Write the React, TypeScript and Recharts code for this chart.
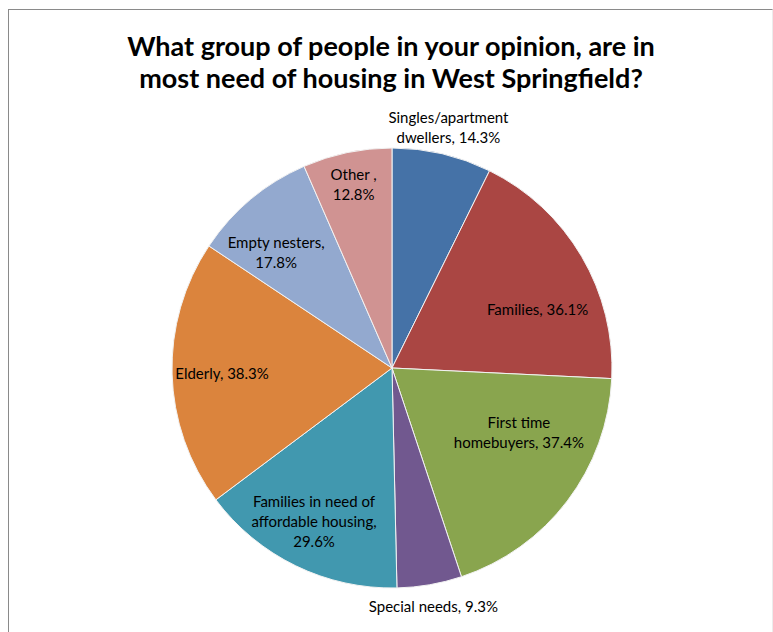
import { PieChart, Pie, Cell } from 'recharts';

// survey answers, in the order they run clockwise from 12 o'clock
const categories = [
  'Singles/apartment dwellers',
  'Families',
  'First time homebuyers',
  'Special needs',
  'Families in need of affordable housing',
  'Elderly',
  'Empty nesters',
  'Other ',
];
const percents = [14.3, 36.1, 37.4, 9.3, 29.6, 38.3, 17.8, 12.8];

const titleLines = [
  'What group of people in your opinion, are in',
  'most need of housing in West Springfield?',
];

// how each label wraps (the value is added after the last line)
const labelWrap = [
  ['Singles/apartment', 'dwellers'],
  ['Families'],
  ['First time', 'homebuyers'],
  ['Special needs'],
  ['Families in need of', 'affordable housing'],
  ['Elderly'],
  ['Empty nesters'],
  ['Other '],
];
const valueOnOwnLine = [false, false, false, false, true, false, true, true];

const colors = ['#4572A7', '#AA4643', '#89A54E', '#71588F', '#4198AF', '#DB843D', '#93A9CF', '#D09392'];

// label distance from centre and clockwise nudge (deg) – like Excel's "best fit"
const labelRadius = [248, 157, 142, 242, 172, 170, 164, 188];
const labelNudge = [0, 8.5, -10.5, 0, 1, 0, -5, 0];

const chartData = categories.map((name, i) => ({ name, value: percents[i] }));

const RAD = Math.PI / 180;
const LINE_H = 20;

const renderLabel = (props: any) => {
  const { cx, cy, midAngle, index } = props;
  const angle = midAngle - labelNudge[index];
  const r = labelRadius[index];
  const x = cx + r * Math.cos(-angle * RAD);
  const y = cy + r * Math.sin(-angle * RAD);

  const wrap = labelWrap[index];
  const value = `${percents[index].toFixed(1)}%`;
  const lines = valueOnOwnLine[index]
    ? [...wrap.slice(0, -1), wrap[wrap.length - 1] + ',', value]
    : [...wrap.slice(0, -1), `${wrap[wrap.length - 1]}, ${value}`];
  const top = y - ((lines.length - 1) * LINE_H) / 2;

  return (
    <text
      key={`lbl-${index}`}
      x={x}
      y={top}
      textAnchor="middle"
      dominantBaseline="central"
      fill="#000"
      fontSize={15}
      fontFamily="Lato, 'Open Sans', sans-serif"
    >
      {lines.map((line, j) => (
        <tspan key={j} x={x} y={top + j * LINE_H}>
          {line}
        </tspan>
      ))}
    </text>
  );
};

export default function App() {
  return (
    <div style={{ position: 'absolute', left: 0, top: 0, width: 773, height: 632, background: '#fff', overflow: 'hidden' }}>
      {/* frame of the pasted chart */}
      <div
        style={{
          position: 'absolute',
          left: 8,
          top: 9,
          width: 763,
          height: 640,
          borderTop: '1px solid #8a8a8a',
          borderLeft: '1px solid #8a8a8a',
          borderRight: '1px solid #ececec',
        }}
      />
      <div
        style={{
          position: 'absolute',
          left: 0,
          top: 30,
          width: 782,
          textAlign: 'center',
          fontFamily: "Lato, 'Open Sans', sans-serif",
          fontWeight: 700,
          fontSize: 27,
          lineHeight: '32px',
          color: '#000',
        }}
      >
        {titleLines.map((t) => (
          <div key={t}>{t}</div>
        ))}
      </div>
      <div style={{ position: 'absolute', left: 0, top: 0 }}>
        <PieChart width={773} height={632} margin={{ top: 0, right: 0, bottom: 0, left: 0 }}>
          <Pie
            data={chartData}
            dataKey="value"
            nameKey="name"
            cx={392}
            cy={368}
            outerRadius={220}
            startAngle={90}
            endAngle={-270}
            stroke="#f2f2f2"
            strokeWidth={1}
            label={renderLabel}
            labelLine={false}
            isAnimationActive={false}
          >
            {chartData.map((d, i) => (
              <Cell key={d.name} fill={colors[i]} />
            ))}
          </Pie>
        </PieChart>
      </div>
    </div>
  );
}
